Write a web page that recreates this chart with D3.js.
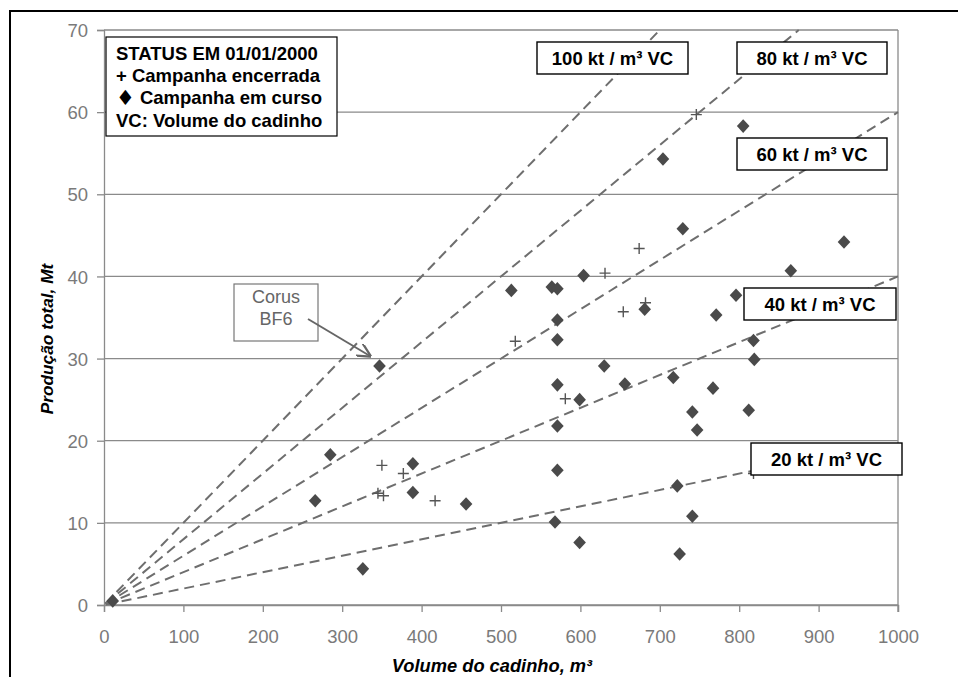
<!DOCTYPE html>
<html>
<head>
<meta charset="utf-8">
<script src="https://cdn.jsdelivr.net/npm/d3@7"></script>
<style>
  html, body { margin: 0; padding: 0; background: #fff; }
  svg { display: block; font-family: "Liberation Sans", Arial, Helvetica, sans-serif; }
</style>
</head>
<body>
<svg id="chart" width="958" height="677"></svg>
<script>
// ---- data ----
const xTicks = [0, 100, 200, 300, 400, 500, 600, 700, 800, 900, 1000];
const yTicks = [0, 10, 20, 30, 40, 50, 60, 70];

// Campanha em curso (diamonds): [volume m3, producao Mt]
const emCurso = [
  [11, 0.5], [347, 29.1], [285, 18.3], [266, 12.7], [389, 17.2], [389, 13.7],
  [456, 12.3], [326, 4.4], [571, 32.3], [630, 29.1], [571, 26.8], [599, 25.0],
  [656, 26.9], [571, 21.8], [717, 27.7], [767, 26.4], [741, 23.5], [747, 21.3],
  [812, 23.7], [819, 29.9], [818, 32.2], [571, 16.4], [722, 14.5], [741, 10.8],
  [568, 10.1], [599, 7.6], [725, 6.2], [805, 58.3], [704, 54.3], [729, 45.8],
  [932, 44.2], [865, 40.7], [604, 40.1], [513, 38.3], [564, 38.7], [571, 38.5],
  [796, 37.7], [681, 36.0], [571, 34.7], [771, 35.3]
];
// Campanha encerrada (crosses)
const encerrada = [
  [350, 17.0], [345, 13.6], [352, 13.3], [377, 16.0], [417, 12.7], [581, 25.1],
  [746, 59.7], [674, 43.4], [631, 40.4], [654, 35.7], [682, 36.8], [518, 32.1],
  [818, 16.0]
];

// Reference lines: kt per m3 of hearth volume, and the volume where each drawn line stops
const rates = [100, 80, 60, 40, 20];
const rateEndX = [700, 875, 1000, 1000, 816];
const rateLabels = ["100 kt / m³ VC", "80 kt / m³ VC", "60 kt / m³ VC", "40 kt / m³ VC", "20 kt / m³ VC"];

const legendLines = ["STATUS EM 01/01/2000", "+ Campanha encerrada", "♦ Campanha em curso", "VC: Volume do cadinho"];
const xTitle = "Volume do cadinho, m³";
const yTitle = "Produção total, Mt";
const annotation = ["Corus", "BF6"];

// ---- layout ----
const svg = d3.select("#chart");
const pL = 104, pR = 898, pT = 30, pB = 605;
const x = d3.scaleLinear().domain([0, 1000]).range([pL, pR]);
const y = d3.scaleLinear().domain([0, 70]).range([pB, pT]);
const gridColor = "#8a8a8a";
const tickText = "#7a7a7a";

// outer frame (cropped: only top and left visible)
svg.append("line").attr("x1", 10).attr("y1", 11).attr("x2", 958).attr("y2", 11)
  .attr("stroke", "#000").attr("stroke-width", 2);
svg.append("line").attr("x1", 10).attr("y1", 10).attr("x2", 10).attr("y2", 677)
  .attr("stroke", "#000").attr("stroke-width", 2);

// horizontal gridlines
svg.append("g").selectAll("line").data(yTicks).join("line")
  .attr("x1", pL).attr("x2", pR)
  .attr("y1", d => y(d)).attr("y2", d => y(d))
  .attr("stroke", gridColor).attr("stroke-width", 1.3);

// axes
const xAxis = svg.append("g").attr("transform", `translate(0,${pB})`)
  .call(d3.axisBottom(x).tickValues(xTicks).tickSize(7).tickPadding(20).tickFormat(d3.format("d")));
const yAxis = svg.append("g").attr("transform", `translate(${pL},0)`)
  .call(d3.axisLeft(y).tickValues(yTicks).tickSize(7).tickPadding(9).tickFormat(d3.format("d")));
[xAxis, yAxis].forEach(g => {
  g.select(".domain").attr("stroke", gridColor).attr("stroke-width", 1.3);
  g.selectAll(".tick line").attr("stroke", gridColor).attr("stroke-width", 1.3);
  g.selectAll(".tick text").attr("fill", tickText).attr("font-size", 18.5)
    .attr("font-family", "'Liberation Sans', Arial, sans-serif");
});
xAxis.selectAll(".tick text").attr("dy", "0").attr("y", 38);
yAxis.selectAll(".tick text").attr("dy", "0.36em");
// right border of plot
svg.append("line").attr("x1", pR).attr("x2", pR).attr("y1", pT).attr("y2", pB + 7)
  .attr("stroke", gridColor).attr("stroke-width", 1.3);

// dashed rate lines
svg.append("g").selectAll("line").data(rates).join("line")
  .attr("x1", x(0)).attr("y1", y(0))
  .attr("x2", (d, i) => x(Math.min(rateEndX[i], 70000 / d)))
  .attr("y2", (d, i) => y(d * Math.min(rateEndX[i], 70000 / d) / 1000))
  .attr("stroke", "#6e6e6e").attr("stroke-width", 2)
  .attr("stroke-dasharray", "10,6").attr("stroke-dashoffset", -18);

// crosses
const cr = 5.5;
svg.append("g").selectAll("path").data(encerrada).join("path")
  .attr("d", d => `M${x(d[0]) - cr},${y(d[1])}H${x(d[0]) + cr}M${x(d[0])},${y(d[1]) - cr}V${y(d[1]) + cr}`)
  .attr("stroke", "#555").attr("stroke-width", 1.4).attr("fill", "none");

// diamonds
svg.append("g").selectAll("path").data(emCurso).join("path")
  .attr("transform", d => `translate(${x(d[0])},${y(d[1])})`)
  .attr("d", "M0,-6.8L6.3,0L0,6.8L-6.3,0Z")
  .attr("fill", "#4a4a4a");

// rate label boxes
const boxes = [
  { x: 537, y: 42, w: 151, h: 32 },
  { x: 737, y: 42, w: 150, h: 32 },
  { x: 737, y: 138, w: 150, h: 32 },
  { x: 744, y: 288, w: 152, h: 32 },
  { x: 751, y: 443, w: 151, h: 32 }
];
const lb = svg.append("g").selectAll("g").data(rateLabels).join("g")
  .attr("transform", (d, i) => `translate(${boxes[i].x},${boxes[i].y})`);
lb.append("rect").attr("width", (d, i) => boxes[i].w).attr("height", (d, i) => boxes[i].h)
  .attr("fill", "#fff").attr("stroke", "#000").attr("stroke-width", 1.4);
lb.append("text").attr("x", (d, i) => boxes[i].w / 2).attr("y", (d, i) => boxes[i].h / 2 + 7)
  .attr("text-anchor", "middle").attr("font-weight", "bold").attr("font-size", 18.5)
  .attr("fill", "#000").text(d => d);

// legend
svg.append("rect").attr("x", 106).attr("y", 37).attr("width", 231).attr("height", 99)
  .attr("fill", "#fff").attr("stroke", "#000").attr("stroke-width", 1.2);
const lt = svg.append("g").selectAll("text").data(legendLines).join("text")
  .attr("x", 116).attr("y", (d, i) => 60 + i * 22.2)
  .attr("font-weight", "bold").attr("font-size", 18.5).attr("fill", "#000");
lt.each(function (d) {
  const t = d3.select(this);
  if (d.startsWith("♦")) {
    t.append("tspan").attr("font-size", 21).attr("font-family", "'DejaVu Sans', sans-serif")
      .attr("dy", 1).text("♦");
    t.append("tspan").attr("dy", -1).text(d.slice(1));
  } else {
    t.text(d);
  }
});

// Corus BF6 annotation
svg.append("rect").attr("x", 234).attr("y", 284).attr("width", 84).attr("height", 57)
  .attr("fill", "#fff").attr("stroke", "#777").attr("stroke-width", 1.2);
svg.append("g").selectAll("text").data(annotation).join("text")
  .attr("x", 276).attr("y", (d, i) => 303 + i * 22)
  .attr("text-anchor", "middle").attr("font-size", 18).attr("fill", "#666")
  .text(d => d);
svg.append("defs").append("marker").attr("id", "arr")
  .attr("viewBox", "0 0 10 10").attr("refX", 9).attr("refY", 5)
  .attr("markerWidth", 7).attr("markerHeight", 7).attr("orient", "auto")
  .append("path").attr("d", "M0,0L10,5L0,10").attr("fill", "none").attr("stroke", "#666").attr("stroke-width", 1.6);
svg.append("line").attr("x1", 308).attr("y1", 319).attr("x2", 370).attr("y2", 356)
  .attr("stroke", "#666").attr("stroke-width", 2).attr("marker-end", "url(#arr)");

// axis titles
svg.append("text").attr("x", 492).attr("y", 672).attr("text-anchor", "middle")
  .attr("font-weight", "bold").attr("font-style", "italic").attr("font-size", 18.3)
  .attr("fill", "#000").text(xTitle);
svg.append("text").attr("transform", "translate(53,339) rotate(-90)").attr("text-anchor", "middle")
  .attr("font-weight", "bold").attr("font-style", "italic").attr("font-size", 17.3)
  .attr("fill", "#000").text(yTitle);
</script>
</body>
</html>
